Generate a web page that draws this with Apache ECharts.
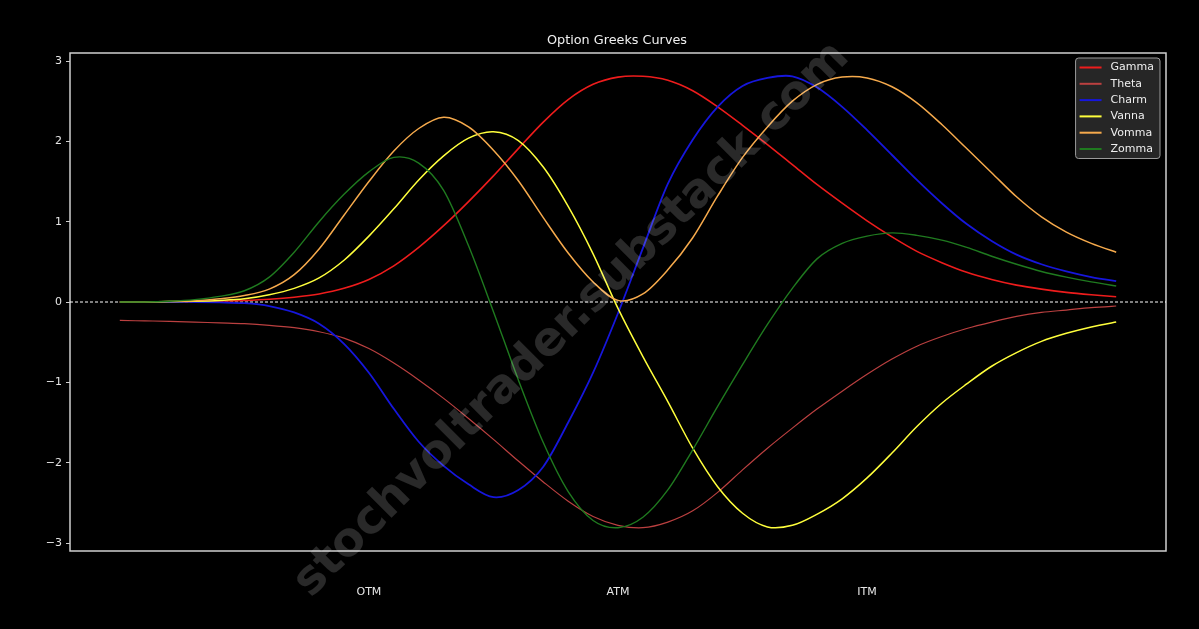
<!DOCTYPE html>
<html>
<head>
<meta charset="utf-8">
<script src="https://cdn.jsdelivr.net/npm/echarts@6/dist/echarts.min.js"></script>
<style>
html,body{margin:0;padding:0;background:#000;}
#chart{width:1199px;height:629px;}
</style>
</head>
<body>
<div id="chart"></div>
<script>
// x positions (0 = far OTM, 100 = far ITM)
var xs = [0,2.5,5,7.5,10,12.5,15,17.5,20,22.5,25,27.5,30,32.5,35,37.5,40,42.5,45,47.5,50,52.5,55,57.5,60,62.5,65,67.5,70,72.5,75,77.5,80,82.5,85,87.5,90,92.5,95,97.5,100];
var xTickValues = [25, 50, 75];
var xTickLabels = ['OTM', 'ATM', 'ITM'];
var yTickValues = [-3, -2, -1, 0, 1, 2, 3];
var zeroLineX = [-5, 105];
var seriesNames = ['Gamma', 'Theta', 'Charm', 'Vanna', 'Vomma', 'Zomma'];

var gamma = [0.00,0.00,0.002,0.005,0.01,0.02,0.035,0.06,0.10,0.17,0.28,0.45,0.68,0.95,1.25,1.57,1.91,2.24,2.52,2.71,2.80,2.81,2.76,2.63,2.43,2.20,1.96,1.71,1.46,1.23,1.01,0.81,0.63,0.49,0.37,0.28,0.21,0.16,0.12,0.09,0.065];
var theta = [-0.23,-0.235,-0.24,-0.25,-0.26,-0.27,-0.29,-0.32,-0.37,-0.45,-0.58,-0.76,-0.97,-1.20,-1.45,-1.71,-1.98,-2.24,-2.48,-2.67,-2.78,-2.81,-2.74,-2.60,-2.37,-2.09,-1.82,-1.57,-1.33,-1.11,-0.90,-0.71,-0.55,-0.43,-0.33,-0.25,-0.18,-0.13,-0.10,-0.07,-0.05];
var charm = [0.00,0.00,0.00,0.00,-0.005,-0.015,-0.05,-0.13,-0.27,-0.52,-0.88,-1.33,-1.74,-2.04,-2.27,-2.43,-2.34,-2.05,-1.50,-0.88,-0.14,0.67,1.47,2.02,2.43,2.69,2.79,2.81,2.67,2.43,2.14,1.83,1.52,1.23,0.97,0.76,0.59,0.47,0.38,0.31,0.26];
var vanna = [0.00,0.00,0.005,0.01,0.02,0.04,0.09,0.17,0.30,0.52,0.82,1.16,1.52,1.82,2.04,2.12,2.01,1.68,1.19,0.60,-0.08,-0.68,-1.24,-1.82,-2.30,-2.63,-2.80,-2.78,-2.64,-2.45,-2.19,-1.88,-1.55,-1.26,-1.02,-0.80,-0.63,-0.49,-0.39,-0.31,-0.25];
var vomma = [0.00,0.00,0.005,0.015,0.04,0.08,0.16,0.34,0.66,1.08,1.50,1.88,2.16,2.30,2.18,1.89,1.51,1.05,0.61,0.25,0.02,0.10,0.40,0.80,1.32,1.80,2.18,2.50,2.71,2.80,2.79,2.68,2.48,2.21,1.91,1.61,1.31,1.06,0.87,0.73,0.62];
var zomma = [0.00,0.00,0.01,0.03,0.07,0.14,0.31,0.62,1.00,1.34,1.62,1.80,1.73,1.39,0.70,-0.12,-0.97,-1.75,-2.36,-2.72,-2.81,-2.68,-2.34,-1.84,-1.30,-0.78,-0.28,0.17,0.54,0.73,0.82,0.86,0.83,0.77,0.68,0.57,0.47,0.38,0.31,0.25,0.20];

var values = [gamma, theta, charm, vanna, vomma, zomma];
var colors = ['#ee1c1c', '#bb4040', '#1616dc', '#ffff3c', '#f6aa4c', '#1f7a1f'];
var widths = [1.6, 1.2, 1.8, 1.5, 1.5, 1.4];

function pairs(arr) {
  return xs.map(function (x, i) { return [x, arr[i]]; });
}

// smooth curve through the data points (Catmull-Rom drawn as cubic Beziers in pixel space)
function makeRenderer(arr, color, width) {
  var data = pairs(arr);
  return function (params, api) {
    if (params.dataIndex !== 0) return null;
    var p = data.map(function (d) { return api.coord(d); });
    var n = p.length;
    var d = 'M' + p[0][0] + ',' + p[0][1];
    for (var i = 0; i < n - 1; i++) {
      var p0 = p[i > 0 ? i - 1 : i], p1 = p[i], p2 = p[i + 1], p3 = p[i + 2 < n ? i + 2 : i + 1];
      var c1x = p1[0] + (p2[0] - p0[0]) / 6, c1y = p1[1] + (p2[1] - p0[1]) / 6;
      var c2x = p2[0] - (p3[0] - p1[0]) / 6, c2y = p2[1] - (p3[1] - p1[1]) / 6;
      d += ' C' + c1x + ',' + c1y + ' ' + c2x + ',' + c2y + ' ' + p2[0] + ',' + p2[1];
    }
    return {
      type: 'path',
      shape: { pathData: d },
      style: { fill: 'none', stroke: color, lineWidth: width, lineJoin: 'round' },
      silent: true
    };
  };
}

var series = [{
  name: 'zero',
  type: 'line',
  data: zeroLineX.map(function (x) { return [x, 0]; }),
  symbol: 'none',
  silent: true,
  lineStyle: { color: '#ffffff', type: [3, 2], width: 1 },
  z: 2,
  animation: false
}];

seriesNames.forEach(function (name, i) {
  series.push({
    name: name,
    type: 'custom',
    data: pairs(values[i]),
    encode: { x: 0, y: 1 },
    renderItem: makeRenderer(values[i], colors[i], widths[i]),
    itemStyle: { color: colors[i] },
    clip: false,
    z: 3 + i,
    animation: false
  });
});

var chart = echarts.init(document.getElementById('chart'), null, { renderer: 'canvas' });
chart.setOption({
  backgroundColor: '#000000',
  animation: false,
  textStyle: { fontFamily: 'DejaVu Sans' },
  grid: {
    left: 70, right: 33, top: 53, bottom: 78,
    show: true, borderColor: '#cfcfcf', borderWidth: 1.5, backgroundColor: 'transparent'
  },
  xAxis: {
    type: 'value',
    min: -5, max: 105,
    axisLine: { show: false, onZero: false },
    axisTick: { show: false },
    splitLine: { show: false },
    axisLabel: {
      customValues: xTickValues,
      color: '#e6e6e6',
      fontSize: 11,
      margin: 36,
      formatter: function (v) {
        var k = xTickValues.indexOf(v);
        return k >= 0 ? xTickLabels[k] : '';
      }
    }
  },
  yAxis: {
    type: 'value',
    min: -3.1, max: 3.1,
    axisLine: { show: false, onZero: false },
    splitLine: { show: false },
    axisTick: {
      show: true, customValues: yTickValues, length: 4,
      lineStyle: { color: '#cfcfcf', width: 1 }
    },
    axisLabel: {
      customValues: yTickValues,
      color: '#e6e6e6',
      fontSize: 11,
      margin: 8,
      formatter: function (v) { return v < 0 ? '\u2212' + Math.abs(v) : String(v); }
    }
  },
  legend: {
    orient: 'vertical',
    right: 39, top: 58,
    data: seriesNames,
    icon: 'rect',
    itemWidth: 22, itemHeight: 2, itemGap: 3.3,
    padding: [3, 6, 3, 4],
    backgroundColor: '#262626',
    borderColor: '#9a9a9a', borderWidth: 1, borderRadius: 3,
    textStyle: { color: '#eeeeee', fontSize: 11, lineHeight: 13, fontFamily: 'DejaVu Sans', padding: [0, 0, 0, 4] }
  },
  graphic: [
    {
      type: 'text',
      x: 617, y: 41,
      style: {
        text: 'Option Greeks Curves', fill: '#f0f0f0',
        fontSize: 12.8, fontFamily: 'DejaVu Sans',
        align: 'center', verticalAlign: 'middle'
      },
      z: 100
    },
    {
      type: 'text',
      x: 572, y: 320,
      rotation: Math.PI / 4,
      style: {
        text: 'stochvoltrader.substack.com',
        fill: 'rgba(255,255,255,0.16)',
        fontSize: 47, fontWeight: 'bold', fontFamily: 'DejaVu Sans',
        align: 'center', verticalAlign: 'middle'
      },
      z: 100,
      silent: true
    }
  ],
  series: series
});
</script>
</body>
</html>
